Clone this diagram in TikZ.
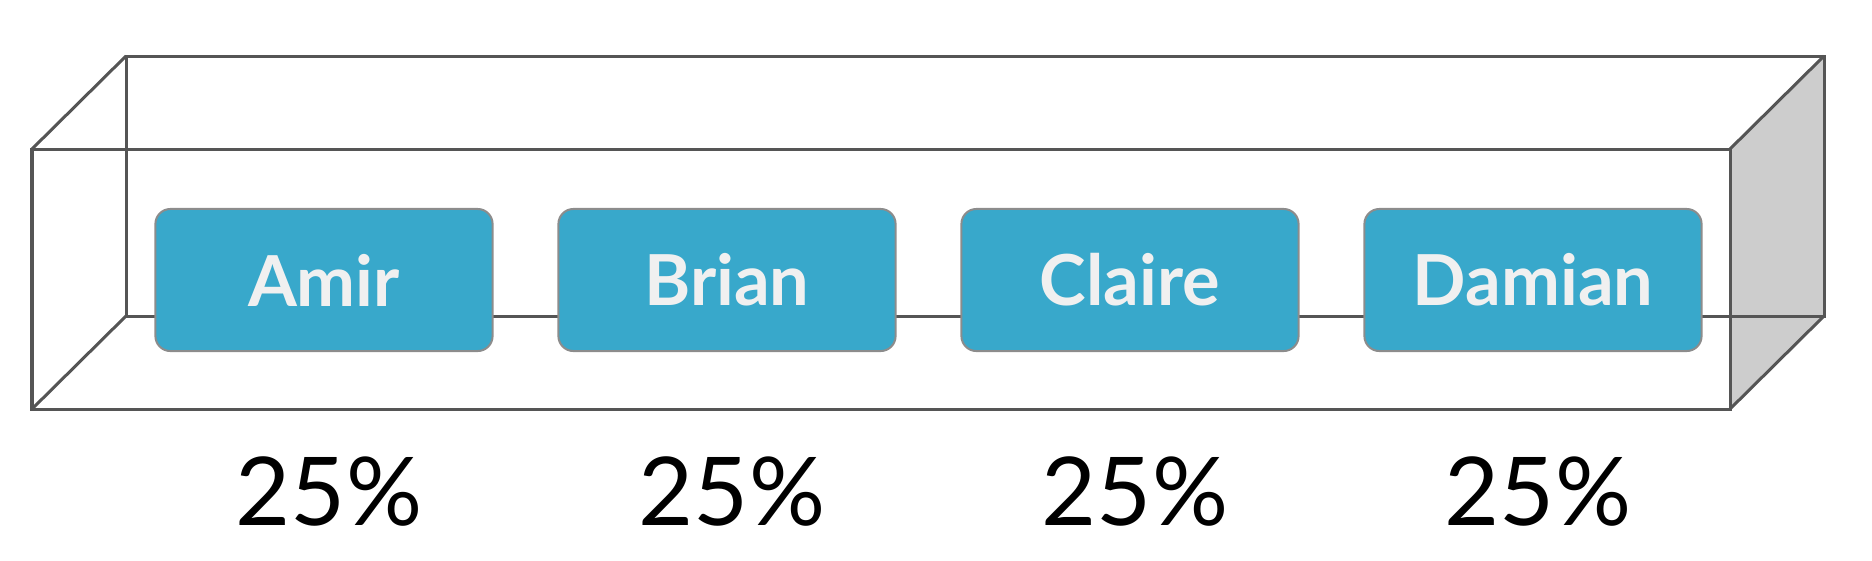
\documentclass[tikz,border=0pt]{standalone}
\usepackage{fontspec}
\setmainfont{Lato}
\usepackage{tikz}
\usetikzlibrary{positioning}
\definecolor{boxblue}{HTML}{38A8CB}
\definecolor{boxedge}{HTML}{8C8C8C}
\definecolor{wire}{HTML}{555555}
\definecolor{sideface}{HTML}{CDCDCD}
\tikzset{
  wireline/.style={draw=wire,line width=0.03cm,line join=miter},
  namebox/.style={
    draw=boxedge,fill=boxblue,rounded corners=0.15cm,line width=0.02cm,
    minimum width=3.37cm,minimum height=1.42cm,inner sep=0pt,
    text=white!94!black,font=\bfseries\fontsize{20}{24}\selectfont,
  },
  share/.style={anchor=base,font=\fontsize{27}{32}\selectfont},
}

\begin{document}
\begin{tikzpicture}[x=0.01cm,y=-0.01cm]
    \useasboundingbox (0,0) rectangle (1872,560);
    % corners of the box
    \coordinate (ftl) at (32,149);
    \coordinate (ftr) at (1730,149);
    \coordinate (fbl) at (32,409);
    \coordinate (fbr) at (1730,409);
    \coordinate (btl) at (126,56);
    \coordinate (btr) at (1824,56);
    \coordinate (bbl) at (126,316);
    \coordinate (bbr) at (1824,316);
    % side face
    \fill[sideface] (ftr) -- (btr) -- (bbr) -- (fbr) -- cycle;
    % back edges
    \draw[wireline] (btl) -- (btr) -- (bbr) -- (bbl) -- cycle;
    % depth edges
    \draw[wireline] (ftl) -- (btl);
    \draw[wireline] (ftr) -- (btr);
    \draw[wireline] (fbl) -- (bbl);
    \draw[wireline] (fbr) -- (bbr);
    % front edges
    \draw[wireline] (ftl) -- (ftr) -- (fbr) -- (fbl) -- cycle;
    % names
    \node[namebox] (amir) at (324,280) {Amir};
    \node[namebox] (brian) at (727,280) {Brian};
    \node[namebox] (claire) at (1130,280) {Claire};
    \node[namebox] (damian) at (1533,280) {Damian};
    % shares
    \node[share] (pa) at (329,525) {25\%};
    \node[share] (pb) at (732,525) {25\%};
    \node[share] (pc) at (1135,525) {25\%};
    \node[share] (pd) at (1538,525) {25\%};
\end{tikzpicture}
\end{document}
